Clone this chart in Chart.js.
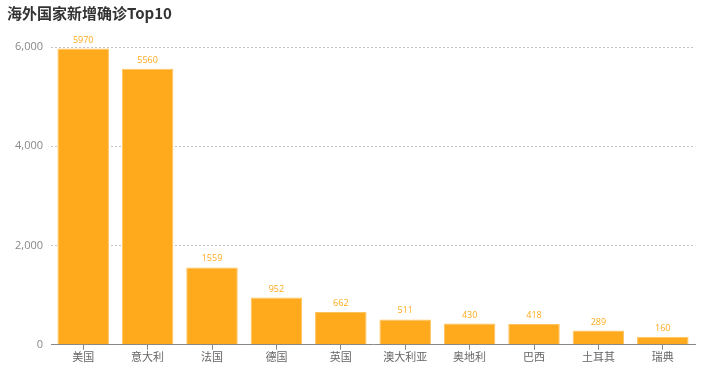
<!DOCTYPE html>
<html><head><meta charset="utf-8">
<script src="https://cdn.jsdelivr.net/npm/chart.js@4/dist/chart.umd.min.js"></script>
<style>html,body{margin:0;padding:0;background:#fff;}</style>
</head><body>
<canvas id="c" width="707" height="370"></canvas>
<script>
const categories = ['美国','意大利','法国','德国','英国','澳大利亚','奥地利','巴西','土耳其','瑞典'];
const newCases = [5970,5560,1559,952,662,511,430,418,289,160];
const yTicks = [0,2000,4000,6000];

const valueLabels = {
  id:'valueLabels',
  afterDatasetsDraw(chart){
    const ctx = chart.ctx;
    const meta = chart.getDatasetMeta(0);
    ctx.save();
    ctx.font = '9px "Open Sans", sans-serif';
    ctx.fillStyle = '#FFAA1C';
    ctx.textAlign = 'center';
    ctx.textBaseline = 'bottom';
    meta.data.forEach((bar,i)=>{
      ctx.fillText(String(newCases[i]), bar.x, bar.y - 4);
    });
    ctx.restore();
  }
};

new Chart(document.getElementById('c'), {
  type:'bar',
  data:{labels:categories, datasets:[{data:newCases, backgroundColor:'#FFAA1C', borderColor:'#FFC35E', borderWidth:1, barPercentage:0.8, categoryPercentage:1}]},
  options:{
    responsive:false, animation:false,
    layout:{padding:{left:7,right:12,top:4,bottom:7}},
    plugins:{
      legend:{display:false}, tooltip:{enabled:false},
      title:{display:true, text:'海外国家新增确诊Top10', align:'start', color:'#333',
        font:{size:15, weight:'bold', family:'"Noto Sans CJK SC", sans-serif'}, padding:{top:0,bottom:25}}
    },
    scales:{
      x:{grid:{display:true, offset:false, drawOnChartArea:false, drawTicks:true, tickLength:5, color:'#888'}, border:{color:'#888'},
        ticks:{color:'#666', font:{size:11, family:'"Noto Sans CJK SC", sans-serif'}, padding:0}},
      y:{min:0,max:6000, afterBuildTicks(s){s.ticks = yTicks.map(v=>({value:v}));},
        border:{display:false, dash:[2,2]},
        grid:{color:'#c4c4c4', drawTicks:false},
        ticks:{color:'#888', font:{size:11, family:'"Open Sans", sans-serif'}, padding:8}}
    }
  },
  plugins:[valueLabels]
});
</script>
</body></html>
